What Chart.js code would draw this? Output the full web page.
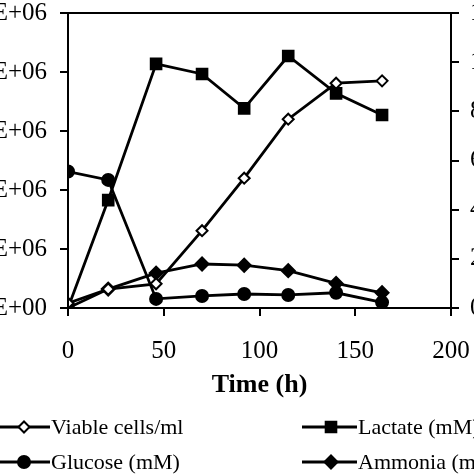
<!DOCTYPE html>
<html>
<head>
<meta charset="utf-8">
<script src="https://cdn.jsdelivr.net/npm/chart.js@4"></script>
<style>
  html, body { margin: 0; padding: 0; background: #fff; }
  #wrap { position: relative; width: 474px; height: 474px; overflow: hidden; }
  #chart { position: absolute; left: -60px; top: 0; }
</style>
</head>
<body>
<div id="wrap"><canvas id="chart" width="600" height="474"></canvas></div>
<script>
const SHIFT = 60; // canvas is shifted left so the axis labels get cut like the picture

// time (h)
const hours = [0, 21, 46, 70, 92, 115, 140, 164];
// left axis
const viableCells = [0.08e6, 0.32e6, 0.41e6, 1.31e6, 2.2e6, 3.2e6, 3.81e6, 3.85e6];
// right axis (mM)
const lactate = [0, 4.39, 9.93, 9.52, 8.12, 10.25, 8.73, 7.85];
const glucose = [5.55, 5.21, 0.37, 0.49, 0.57, 0.53, 0.62, 0.23];
const ammonia = [0, 0.77, 1.42, 1.79, 1.74, 1.52, 1.0, 0.62];

const labels = ['Viable cells/ml', 'Lactate (mM)', 'Glucose (mM)', 'Ammonia (mM)'];

const serif = 'Liberation Serif';
const pts = (ys) => ys.map((y, i) => ({ x: hours[i], y: y }));

function line(label, ys, axis, style, radius, fill) {
   return {
      label: label,
      data: pts(ys),
      yAxisID: axis,
      borderColor: '#000',
      borderWidth: 2.8,
      tension: 0,
      pointStyle: style,
      pointRadius: radius,
      pointBackgroundColor: fill,
      pointBorderColor: '#000',
      pointBorderWidth: 2
   };
}

// axis box + legend drawn by hand (two columns, partly cut off)
const frame = {
   id: 'frame',
   afterDraw(chart) {
      const { ctx, chartArea: a } = chart;
      ctx.save();
      ctx.strokeStyle = '#000';
      ctx.lineWidth = 2;
      ctx.strokeRect(a.left, a.top, a.width, a.height);

      // [line end x, row y] in page pixels
      const spots = [[50, 427], [357, 427], [50, 462], [357, 462]];
      ctx.font = '22px "' + serif + '"';
      ctx.textBaseline = 'middle';
      chart.data.datasets.forEach((ds, i) => {
         const xe = spots[i][0] + SHIFT, y = spots[i][1];
         ctx.strokeStyle = '#000';
         ctx.lineWidth = 2.8;
         ctx.beginPath();
         ctx.moveTo(xe - 55, y);
         ctx.lineTo(xe, y);
         ctx.stroke();
         ctx.fillStyle = ds.pointBackgroundColor;
         ctx.lineWidth = 2;
         Chart.helpers.drawPoint(ctx, { pointStyle: ds.pointStyle, radius: ds.pointRadius, rotation: 0, borderWidth: 2 }, xe - 26, y);
         ctx.fillStyle = '#000';
         ctx.fillText(ds.label, xe + 1, y + 1);
      });
      ctx.restore();
   }
};

// fixed axis widths, and no extra room asked for the end labels
function fixY(w) {
   return (s) => { s.width = w; s.paddingTop = 0; s.paddingBottom = 0; };
}

const ctx1 = document.getElementById('chart');
const chart1 = new Chart(ctx1, {
   type: 'line',
   data: {
      datasets: [
         line(labels[0], viableCells, 'yL', 'rectRot', 5.5, '#fff'),
         line(labels[1], lactate, 'yR', 'rect', 7.5, '#000'),
         line(labels[2], glucose, 'yR', 'circle', 6, '#000'),
         line(labels[3], ammonia, 'yR', 'rectRot', 6.5, '#000')
      ]
   },
   options: {
      responsive: false,
      animation: false,
      layout: { padding: { top: 13, bottom: 72, left: 0, right: 0 } },
      plugins: { legend: { display: false }, tooltip: { enabled: false } },
      scales: {
         x: {
            type: 'linear',
            min: 0, max: 200,
            border: { color: '#000', width: 2 },
            grid: { drawOnChartArea: false, color: '#000', lineWidth: 2, tickLength: 8 },
            ticks: { stepSize: 50, color: '#000', padding: 23, font: { family: serif, size: 25, lineHeight: 1 } },
            title: { display: true, text: 'Time (h)', color: '#000', padding: { top: 6 }, font: { family: serif, size: 26, weight: 'bold', lineHeight: 1 } },
            afterFit(s) { s.height = 94; }
         },
         yL: {
            position: 'left',
            min: 0, max: 5e6,
            border: { color: '#000', width: 2 },
            grid: { drawOnChartArea: false, color: '#000', lineWidth: 2, tickLength: 8 },
            ticks: {
               stepSize: 1e6, color: '#000', padding: 13,
               font: { family: serif, size: 25, lineHeight: 1 },
               callback: (v) => {
                  const [m, e] = Number(v).toExponential(2).split('e');
                  const n = Math.abs(+e);
                  return m + 'E' + (+e < 0 ? '-' : '+') + (n < 10 ? '0' : '') + n;
               }
            },
            afterFit: fixY(128)
         },
         yR: {
            position: 'right',
            min: 0, max: 12,
            border: { color: '#000', width: 2 },
            grid: { drawOnChartArea: false, color: '#000', lineWidth: 2, tickLength: 8 },
            ticks: { stepSize: 2, color: '#000', padding: 11, font: { family: serif, size: 25, lineHeight: 1 } },
            afterFit: fixY(89)
         }
      }
   },
   plugins: [frame]
});
</script>
</body>
</html>
